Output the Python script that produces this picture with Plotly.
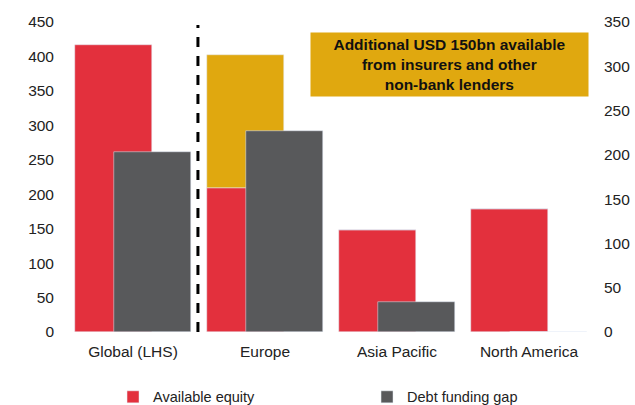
import plotly.graph_objects as go

regions = ["Global (LHS)", "Europe", "Asia Pacific", "North America"]
# Global on left axis, regions on right axis (USD bn)
equity_global = 417
gap_global = 262
equity_regions = [163, 115, 139]
extra_regions = [150, 0, 0]
gap_regions = [227, 34, 0]

RED = "#E3303D"
GOLD = "#E0A80F"
GREY = "#58595B"

x_reg = [1, 2, 3]
w = 0.59
off_red = -0.148 - w / 2
off_grey = 0.148 - w / 2

fig = go.Figure()
fig.add_trace(go.Bar(x=[0], y=[equity_global], name="Available equity", marker_color=RED,
                     width=w, offset=off_red, yaxis="y", legendgroup="eq"))
fig.add_trace(go.Bar(x=x_reg, y=equity_regions, name="Available equity", marker_color=RED,
                     width=w, offset=off_red, yaxis="y2", legendgroup="eq", showlegend=False))
fig.add_trace(go.Bar(x=x_reg, y=extra_regions, base=equity_regions, name="Non-bank", marker_color=GOLD,
                     width=w, offset=off_red, yaxis="y2", showlegend=False))
fig.add_trace(go.Bar(x=[0], y=[gap_global], name="Debt funding gap", marker_color=GREY,
                     width=w, offset=off_grey, yaxis="y", legendgroup="gap"))
fig.add_trace(go.Bar(x=x_reg, y=gap_regions, name="Debt funding gap", marker_color=GREY,
                     width=w, offset=off_grey, yaxis="y2", legendgroup="gap", showlegend=False))

# separator between global (LHS) and regions (RHS)
fig.add_shape(type="line", xref="x", yref="paper", x0=0.492, x1=0.492, y0=0, y1=0.99,
              line=dict(color="black", width=3, dash="10px,9px"))

fig.add_annotation(xref="paper", yref="paper", x=0.724, y=0.863, xanchor="center", yanchor="middle",
                   text="<b>Additional USD 150bn available<br>from insurers and other<br>non-bank lenders</b>",
                   showarrow=False, bgcolor=GOLD, font=dict(size=15.5, color="#111"),
                   width=275, height=61, align="center")

fig.update_layout(
    width=635, height=405,
    margin=dict(l=67, r=40, t=22, b=73),
    plot_bgcolor="white", paper_bgcolor="white",
    font=dict(family="Liberation Sans, Arial", size=15.5, color="#222"),
    barmode="overlay",
    bargap=0,
    xaxis=dict(range=[-0.5, 3.5], tickvals=[0, 1, 2, 3], ticktext=regions, automargin=False,
               showgrid=False, zeroline=False, showline=False, ticks="", ticklabelstandoff=8),
    yaxis=dict(range=[0, 450], dtick=50, showgrid=False, zeroline=False, ticks="",
               automargin=False, ticklabelstandoff=12),
    yaxis2=dict(range=[0, 350], dtick=50, overlaying="y", side="right", automargin=False,
                showgrid=False, zeroline=False, ticks="", ticklabelstandoff=8),
    legend=dict(orientation="h", xref="container", yref="container", x=0.178, y=0.02,
                xanchor="left", yanchor="middle", entrywidth=209, font=dict(size=14.5)),
    showlegend=True,
)

# drop the default page margin so the figure fills the window exactly
fig.write_html("out.html", config={"displayModeBar": False},
               post_script="document.body.style.margin='0';document.body.style.overflow='hidden';")
